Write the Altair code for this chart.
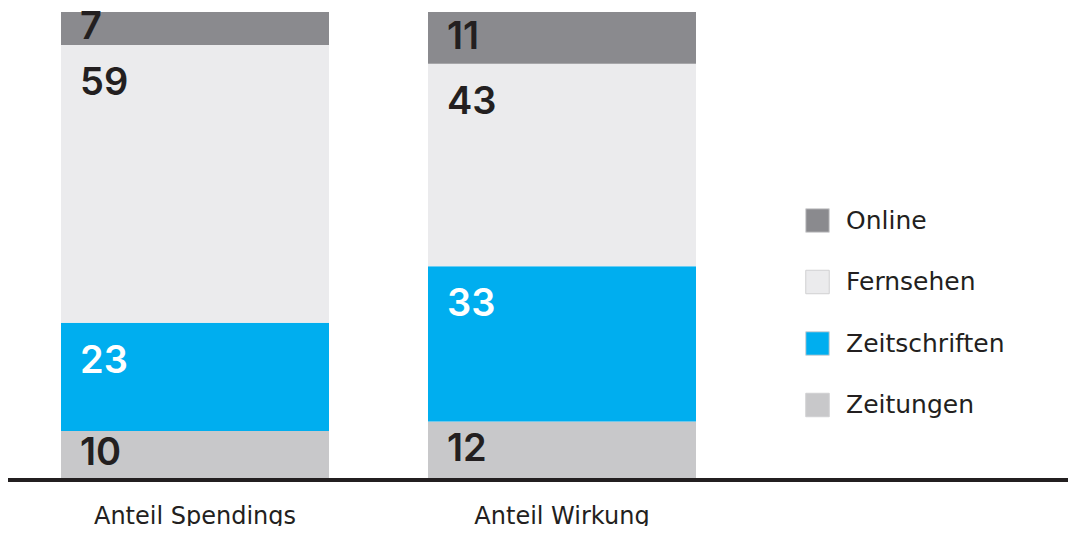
import altair as alt
import pandas as pd

bars = ["Anteil Spendings", "Anteil Wirkung"]
media = ["Zeitungen", "Zeitschriften", "Fernsehen", "Online"]
spendings = [10, 23, 59, 7]
wirkung = [12, 33, 43, 11]
colors = ["#c8c8ca", "#00aeef", "#ebebed", "#8a8a8e"]

rows = []
for b, vals in zip(bars, [spendings, wirkung]):
    for i, (m, v) in enumerate(zip(media, vals)):
        rows.append({"bar": b, "medium": m, "value": v, "order": i})
df = pd.DataFrame(rows)

NUMFONT = "Inter"
FONT = "DejaVu Sans"
px_per_unit = 466 / 99
STEP = 367
BAR = 268
bandpos = (STEP - BAR) / 2 / STEP

base = alt.Chart(df).transform_stack(
    stack="value", groupby=["bar"], as_=["v0", "v1"], sort=[alt.SortField("order", order="ascending")]
).transform_calculate(
    labelY=f"max((datum.v0 + datum.v1) / 2, datum.v1 - {39 / px_per_unit})"
)

xscale = alt.Scale(range=[3.5, 3.5 + 2 * STEP], paddingInner=0, paddingOuter=0, round=False)
xenc = alt.X(
    "bar:N",
    sort=bars,
    title=None,
    scale=xscale,
    axis=alt.Axis(
        domain=False, ticks=False, labelAngle=0, labelFontSize=24, labelFont=FONT,
        labelColor="#231f20", labelPadding=45, labelBaseline="alphabetic",
        labelFontWeight=400, labelLimit=0,
    ),
)
yscale = alt.Scale(domain=[0, 99])

bar_layer = base.mark_bar(size=BAR).encode(
    x=xenc,
    y=alt.Y("v0:Q", scale=yscale, axis=None),
    y2="v1:Q",
    color=alt.Color(
        "medium:N",
        scale=alt.Scale(domain=media, range=colors),
        sort=media[::-1],
        legend=alt.Legend(
            title=None, orient="none", legendX=797, legendY=196, padding=0,
            symbolType="square", symbolSize=552, symbolStrokeWidth=1,
            symbolStrokeColor="#d0d0d2",
            labelFont=FONT, labelFontSize=25, labelColor="#231f20",
            labelOffset=16, rowPadding=32.5, values=media[::-1],
        ),
    ),
)

text_layer = base.mark_text(
    align="left", baseline="middle", dx=19, fontSize=38, font=NUMFONT, fontWeight=600
).encode(
    x=alt.X("bar:N", sort=bars, bandPosition=bandpos, scale=xscale),
    y=alt.Y("labelY:Q", scale=yscale),
    text="value:Q",
    color=alt.condition(
        alt.datum.medium == "Zeitschriften", alt.value("white"), alt.value("#231f20")
    ),
)

rule = alt.Chart(df).mark_rule(color="#231f20", strokeWidth=4).encode(
    x=alt.value(-2), x2=alt.value(1080), y=alt.value(468)
)

chart = alt.layer(bar_layer, text_layer, rule).properties(
    width=1060, height=466,
    background="white",
    autosize=alt.AutoSizeParams(type="none"),
    padding={"left": 0, "top": 4, "right": 0, "bottom": 48},
).configure_view(strokeWidth=0, stroke=None)

chart.save("out.html", embed_options={"renderer": "svg", "actions": False})
